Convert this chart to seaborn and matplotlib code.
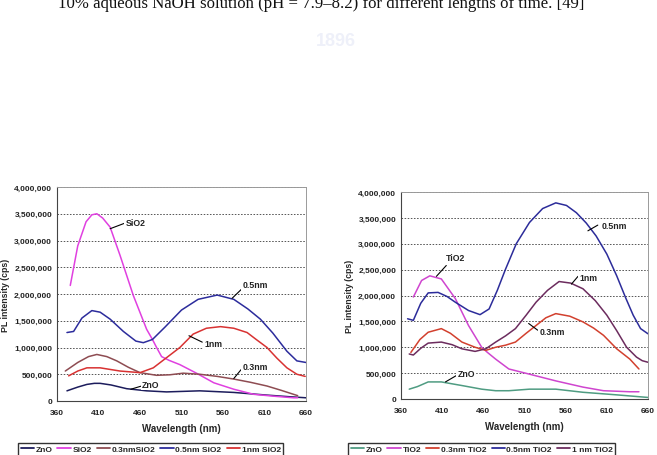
import numpy as np
import pandas as pd
import matplotlib
matplotlib.use('Agg')
import matplotlib.pyplot as plt
from matplotlib.ticker import FuncFormatter, MultipleLocator
from matplotlib.lines import Line2D
import seaborn as sns

sns.set_theme(style='white')
plt.rcParams['font.family'] = ['Liberation Sans', 'DejaVu Sans']

# ---- data: ZnO / SiO2 panel ----
wl_zno_s = [372, 385, 396, 405, 412, 425, 444, 468, 492, 532, 573, 613, 640, 660]
pl_zno_s = [190000, 260000, 310000, 330000, 330000, 300000, 230000, 190000, 170000, 190000, 160000, 110000, 80000, 60000]

wl_sio2 = [376, 385, 395, 402, 408, 415, 424, 436, 452, 468, 475, 480, 486, 495, 508, 528, 549, 573, 597, 621, 645, 650]
pl_sio2 = [2160000, 2900000, 3350000, 3480000, 3500000, 3420000, 3250000, 2720000, 1970000, 1340000, 1150000, 1000000, 830000, 760000, 680000, 520000, 340000, 220000, 125000, 90000, 60000, 60000]

wl_03_s = [370, 385, 398, 408, 420, 432, 446, 460, 480, 496, 512, 532, 553, 573, 593, 613, 630, 645, 650]
pl_03_s = [560000, 720000, 830000, 870000, 830000, 750000, 630000, 530000, 480000, 490000, 520000, 500000, 460000, 410000, 350000, 280000, 200000, 125000, 100000]

wl_05_s = [372, 380, 390, 402, 412, 424, 440, 455, 464, 475, 490, 510, 530, 553, 573, 590, 605, 620, 637, 649, 660]
pl_05_s = [1280000, 1300000, 1550000, 1690000, 1660000, 1530000, 1300000, 1120000, 1090000, 1150000, 1380000, 1700000, 1900000, 1980000, 1900000, 1720000, 1530000, 1270000, 930000, 750000, 720000]

wl_1_s = [374, 385, 396, 412, 436, 460, 476, 492, 508, 524, 540, 557, 573, 589, 600, 613, 625, 637, 649, 659]
pl_1_s = [470000, 560000, 620000, 620000, 560000, 530000, 620000, 810000, 1000000, 1250000, 1360000, 1390000, 1360000, 1280000, 1150000, 1000000, 800000, 620000, 500000, 460000]

# ---- data: ZnO / TiO2 panel ----
wl_zno_t = [370, 380, 393, 409, 434, 458, 475, 491, 516, 548, 581, 622, 660]
pl_zno_t = [190000, 240000, 330000, 330000, 260000, 190000, 160000, 160000, 190000, 190000, 130000, 80000, 30000]

wl_tio2 = [375, 385, 395, 409, 426, 442, 458, 465, 475, 491, 516, 548, 581, 606, 638, 649]
pl_tio2 = [1970000, 2290000, 2380000, 2320000, 1940000, 1420000, 1000000, 900000, 770000, 580000, 480000, 350000, 230000, 160000, 140000, 140000]

wl_03_t = [372, 383, 393, 409, 420, 434, 450, 463, 475, 487, 499, 512, 524, 536, 548, 565, 581, 594, 606, 622, 638, 649]
pl_03_t = [900000, 1150000, 1290000, 1360000, 1270000, 1100000, 1000000, 940000, 1000000, 1040000, 1100000, 1270000, 1420000, 1570000, 1650000, 1600000, 1490000, 1370000, 1230000, 970000, 770000, 580000]

wl_05_t = [368, 375, 384, 393, 405, 416, 426, 442, 456, 467, 477, 487, 500, 516, 532, 548, 561, 573, 585, 597, 610, 622, 633, 642, 651, 660]
pl_05_t = [1550000, 1520000, 1850000, 2050000, 2060000, 1980000, 1870000, 1710000, 1630000, 1740000, 2100000, 2510000, 3000000, 3410000, 3680000, 3790000, 3740000, 3600000, 3400000, 3150000, 2800000, 2380000, 1950000, 1620000, 1360000, 1260000]

wl_1_t = [370, 375, 384, 393, 409, 422, 434, 450, 463, 475, 487, 499, 512, 524, 538, 552, 566, 581, 596, 610, 622, 634, 646, 653, 660]
pl_1_t = [870000, 850000, 980000, 1080000, 1100000, 1050000, 970000, 920000, 970000, 1100000, 1220000, 1360000, 1620000, 1870000, 2100000, 2270000, 2240000, 2130000, 1900000, 1620000, 1320000, 1000000, 810000, 740000, 710000]

wl_ticks = [360, 410, 460, 510, 560, 610, 660]

names_s = ['ZnO', 'SiO2', '0.3nmSiO2', '0.5nm SiO2', '1nm SiO2']
colors_s = ['#1c1c5c', '#e040e0', '#8e4c52', '#2c2c9c', '#d83232']
names_t = ['ZnO', 'TiO2', '0.3nm TiO2', '0.5nm TiO2', '1 nm TiO2']
colors_t = ['#4f9c82', '#cf45cf', '#d2402e', '#2c2c9a', '#6c2c5e']

# label text, (text x, text y), (line start x, y), (line end x, y)
notes_s = [('SiO2', (455, 3340000), (424, 3220000), (441, 3320000)),
           ('0.5nm', (599, 2170000), (571, 1920000), (583, 2100000)),
           ('1nm', (548, 1080000), (519, 1220000), (535, 1100000)),
           ('0.3nm', (599, 640000), (573, 420000), (582, 590000)),
           ('ZnO', (473, 310000), (449, 220000), (464, 290000))]
notes_t = [('TiO2', (426, 2740000), (403, 2370000), (415, 2580000)),
           ('0.5nm', (619, 3350000), (587, 3250000), (599, 3360000)),
           ('1nm', (588, 2350000), (567, 2220000), (575, 2370000)),
           ('0.3nm', (544, 1310000), (515, 1460000), (526, 1330000)),
           ('ZnO', (439, 500000), (414, 330000), (428, 460000))]

series_s = [(wl_zno_s, pl_zno_s), (wl_sio2, pl_sio2), (wl_03_s, pl_03_s), (wl_05_s, pl_05_s), (wl_1_s, pl_1_s)]
series_t = [(wl_zno_t, pl_zno_t), (wl_tio2, pl_tio2), (wl_03_t, pl_03_t), (wl_05_t, pl_05_t), (wl_1_t, pl_1_t)]

W, H = 657, 456
fig = plt.figure(figsize=(W / 100, H / 100), dpi=100)
fig.patch.set_facecolor('white')


def px_axes(l, t, r, b):
    return fig.add_axes([l / W, 1 - b / H, (r - l) / W, (b - t) / H])


def draw_panel(ax, series, names, colors, notes):
    rows = []
    for (x, y), n in zip(series, names):
        rows.append(pd.DataFrame({'wl': x, 'pl': y, 'sample': n}))
    df = pd.concat(rows, ignore_index=True)
    for y in np.arange(500000, 4000001, 500000):
        ax.axhline(y, color='#555555', lw=0.7, ls=(0, (1.6, 1.6)), zorder=0)
    sns.lineplot(data=df, x='wl', y='pl', hue='sample', palette=dict(zip(names, colors)),
                 hue_order=names, estimator=None, sort=False, lw=1.1, ax=ax, legend=False)
    ax.set_xlim(360, 660)
    ax.set_ylim(0, 4000000)
    ax.set_xticks(wl_ticks)
    ax.yaxis.set_major_locator(MultipleLocator(500000))
    ax.yaxis.set_major_formatter(FuncFormatter(lambda v, p: f'{int(v):,}'))
    ax.tick_params(axis='both', labelsize=6, length=3, width=0.7, direction='inout', pad=2, colors='#222222')
    ax.tick_params(axis='x', pad=4)
    for lab in ax.get_xticklabels() + ax.get_yticklabels():
        lab.set_fontweight('bold')
    for s in ['left', 'bottom']:
        ax.spines[s].set_color('#444444')
        ax.spines[s].set_linewidth(0.8)
    for s in ['top', 'right']:
        ax.spines[s].set_color('#9a9a9a')
        ax.spines[s].set_linewidth(0.7)
    ax.set_xlabel('Wavelength (nm)', fontsize=7, fontweight='bold', labelpad=5)
    ax.set_ylabel('PL intensity (cps)', fontsize=6.3, fontweight='bold', labelpad=3)
    for txt, tpos, a, b in notes:
        ax.plot([a[0], b[0]], [a[1], b[1]], color='black', lw=0.8)
        ax.text(tpos[0], tpos[1], txt, fontsize=6.3, fontweight='bold', ha='center', va='center',
                color='#222222', bbox=dict(facecolor='white', edgecolor='none', pad=1.0), zorder=3)


ax1 = px_axes(57, 188, 306, 402)
draw_panel(ax1, series_s, names_s, colors_s, notes_s)
ax2 = px_axes(401, 193, 648, 400)
draw_panel(ax2, series_t, names_t, colors_t, notes_t)

for names, colors, x0 in [(names_s, colors_s, 18), (names_t, colors_t, 348)]:
    handles = [Line2D([], [], color=c, lw=1.3) for c in colors]
    fig.legend(handles, names, loc='upper left', bbox_to_anchor=(x0 / W, 1 - 444 / H), ncol=5,
               frameon=True, fancybox=False, edgecolor='#333333', framealpha=1,
               prop={'size': 6, 'weight': 'bold'}, handlelength=1.6, handletextpad=0.2,
               columnspacing=0.6, borderpad=0.3, borderaxespad=0)

# page text above the figures (cut at the top edge, as in the scan)
fig.text(58 / W, 1 - 8 / H, '10% aqueous NaOH solution (pH = 7.9\u20138.2) for different lengths of time. [49]',
         family=['Liberation Serif', 'DejaVu Serif'], fontsize=12.1, ha='left', va='baseline', color='#111111')
# faint watermark
fig.text(336 / W, 1 - 42 / H, '1896', fontsize=13, fontweight='bold', color='#eef0f9', ha='center', va='center', zorder=-1)

fig.savefig('out.png', dpi=100)
